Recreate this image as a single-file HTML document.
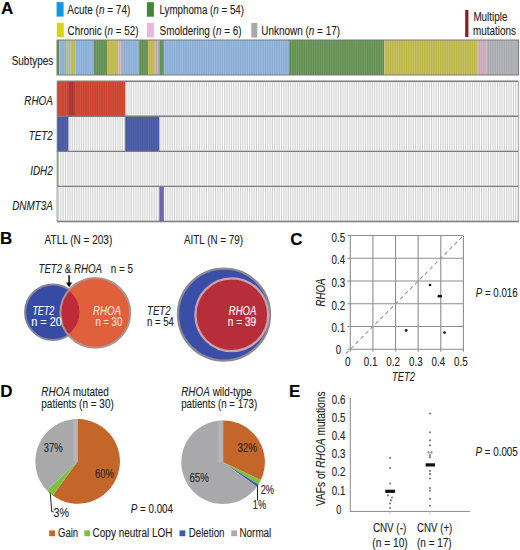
<!DOCTYPE html>
<html><head><meta charset="utf-8"><style>
html,body{margin:0;padding:0;background:#fff;}
svg{display:block;font-family:"Liberation Sans", sans-serif;}
</style></head><body>
<svg width="520" height="550" viewBox="0 0 520 550" fill="#231f20">
<rect x="0" y="0" width="520" height="550" fill="#fff"/>
<text x="0.90" y="13.60" font-size="17" fill="#000" stroke="#000" stroke-width="0.12" font-weight="bold">A</text>
<rect x="56.60" y="2.10" width="7.00" height="14.50" fill="#0a9ae0"/>
<text x="67.30" y="14.10" font-size="12" textLength="63.00" lengthAdjust="spacingAndGlyphs" stroke="#231f20" stroke-width="0.12">Acute (<tspan font-style="italic">n</tspan> = 74)</text>
<rect x="146.90" y="2.20" width="7.00" height="14.50" fill="#3f8a30"/>
<text x="159.50" y="14.10" font-size="12" textLength="84.50" lengthAdjust="spacingAndGlyphs" stroke="#231f20" stroke-width="0.12">Lymphoma (<tspan font-style="italic">n</tspan> = 54)</text>
<rect x="56.80" y="22.80" width="7.00" height="14.50" fill="#d6d416"/>
<text x="67.60" y="34.60" font-size="12" textLength="71.00" lengthAdjust="spacingAndGlyphs" stroke="#231f20" stroke-width="0.12">Chronic (<tspan font-style="italic">n</tspan> = 52)</text>
<rect x="146.90" y="22.90" width="7.00" height="14.50" fill="#e8b8dc"/>
<text x="159.60" y="34.50" font-size="12" textLength="82.00" lengthAdjust="spacingAndGlyphs" stroke="#231f20" stroke-width="0.12">Smoldering (<tspan font-style="italic">n</tspan> = 6)</text>
<rect x="251.30" y="23.00" width="6.00" height="14.50" fill="#a9a9a9"/>
<text x="261.30" y="34.50" font-size="12" textLength="78.70" lengthAdjust="spacingAndGlyphs" stroke="#231f20" stroke-width="0.12">Unknown (<tspan font-style="italic">n</tspan> = 17)</text>
<rect x="465.20" y="10.00" width="3.20" height="27.00" fill="#8a1c22"/>
<text x="473.40" y="21.40" font-size="12" textLength="34.00" lengthAdjust="spacingAndGlyphs" stroke="#231f20" stroke-width="0.12">Multiple</text>
<text x="473.00" y="34.60" font-size="12" textLength="43.00" lengthAdjust="spacingAndGlyphs" stroke="#231f20" stroke-width="0.12">mutations</text>
<rect x="57.00" y="40.00" width="2.27" height="35.00" fill="#5d8c4c"/>
<rect x="59.27" y="40.00" width="6.82" height="35.00" fill="#88add6"/>
<rect x="66.10" y="40.00" width="2.27" height="35.00" fill="#bdb646"/>
<rect x="68.37" y="40.00" width="2.27" height="35.00" fill="#88add6"/>
<rect x="70.64" y="40.00" width="4.55" height="35.00" fill="#bdb646"/>
<rect x="75.19" y="40.00" width="18.19" height="35.00" fill="#88add6"/>
<rect x="93.38" y="40.00" width="13.64" height="35.00" fill="#5d8c4c"/>
<rect x="107.03" y="40.00" width="11.37" height="35.00" fill="#bdb646"/>
<rect x="118.40" y="40.00" width="2.27" height="35.00" fill="#c8a6b6"/>
<rect x="120.67" y="40.00" width="2.27" height="35.00" fill="#a9a9b0"/>
<rect x="122.94" y="40.00" width="15.92" height="35.00" fill="#88add6"/>
<rect x="138.86" y="40.00" width="9.10" height="35.00" fill="#5d8c4c"/>
<rect x="147.96" y="40.00" width="6.82" height="35.00" fill="#bdb646"/>
<rect x="154.78" y="40.00" width="2.27" height="35.00" fill="#c8a6b6"/>
<rect x="157.05" y="40.00" width="2.27" height="35.00" fill="#a9a9b0"/>
<rect x="159.33" y="40.00" width="4.55" height="35.00" fill="#5d8c4c"/>
<rect x="163.87" y="40.00" width="125.06" height="35.00" fill="#88add6"/>
<rect x="288.94" y="40.00" width="95.50" height="35.00" fill="#5d8c4c"/>
<rect x="384.44" y="40.00" width="93.23" height="35.00" fill="#bdb646"/>
<rect x="477.67" y="40.00" width="9.10" height="35.00" fill="#c8a6b6"/>
<rect x="486.77" y="40.00" width="31.83" height="35.00" fill="#a9a9b0"/>
<path d="M59.77 40.00V75.00M62.05 40.00V75.00M64.32 40.00V75.00M66.60 40.00V75.00M68.87 40.00V75.00M71.14 40.00V75.00M73.42 40.00V75.00M75.69 40.00V75.00M77.97 40.00V75.00M80.24 40.00V75.00M82.51 40.00V75.00M84.79 40.00V75.00M87.06 40.00V75.00M89.33 40.00V75.00M91.61 40.00V75.00M93.88 40.00V75.00M96.16 40.00V75.00M98.43 40.00V75.00M100.70 40.00V75.00M102.98 40.00V75.00M105.25 40.00V75.00M107.53 40.00V75.00M109.80 40.00V75.00M112.07 40.00V75.00M114.35 40.00V75.00M116.62 40.00V75.00M118.90 40.00V75.00M121.17 40.00V75.00M123.44 40.00V75.00M125.72 40.00V75.00M127.99 40.00V75.00M130.26 40.00V75.00M132.54 40.00V75.00M134.81 40.00V75.00M137.09 40.00V75.00M139.36 40.00V75.00M141.63 40.00V75.00M143.91 40.00V75.00M146.18 40.00V75.00M148.46 40.00V75.00M150.73 40.00V75.00M153.00 40.00V75.00M155.28 40.00V75.00M157.55 40.00V75.00M159.83 40.00V75.00M162.10 40.00V75.00M164.37 40.00V75.00M166.65 40.00V75.00M168.92 40.00V75.00M171.19 40.00V75.00M173.47 40.00V75.00M175.74 40.00V75.00M178.02 40.00V75.00M180.29 40.00V75.00M182.56 40.00V75.00M184.84 40.00V75.00M187.11 40.00V75.00M189.39 40.00V75.00M191.66 40.00V75.00M193.93 40.00V75.00M196.21 40.00V75.00M198.48 40.00V75.00M200.76 40.00V75.00M203.03 40.00V75.00M205.30 40.00V75.00M207.58 40.00V75.00M209.85 40.00V75.00M212.12 40.00V75.00M214.40 40.00V75.00M216.67 40.00V75.00M218.95 40.00V75.00M221.22 40.00V75.00M223.49 40.00V75.00M225.77 40.00V75.00M228.04 40.00V75.00M230.32 40.00V75.00M232.59 40.00V75.00M234.86 40.00V75.00M237.14 40.00V75.00M239.41 40.00V75.00M241.69 40.00V75.00M243.96 40.00V75.00M246.23 40.00V75.00M248.51 40.00V75.00M250.78 40.00V75.00M253.05 40.00V75.00M255.33 40.00V75.00M257.60 40.00V75.00M259.88 40.00V75.00M262.15 40.00V75.00M264.42 40.00V75.00M266.70 40.00V75.00M268.97 40.00V75.00M271.25 40.00V75.00M273.52 40.00V75.00M275.79 40.00V75.00M278.07 40.00V75.00M280.34 40.00V75.00M282.62 40.00V75.00M284.89 40.00V75.00M287.16 40.00V75.00M289.44 40.00V75.00M291.71 40.00V75.00M293.98 40.00V75.00M296.26 40.00V75.00M298.53 40.00V75.00M300.81 40.00V75.00M303.08 40.00V75.00M305.35 40.00V75.00M307.63 40.00V75.00M309.90 40.00V75.00M312.18 40.00V75.00M314.45 40.00V75.00M316.72 40.00V75.00M319.00 40.00V75.00M321.27 40.00V75.00M323.55 40.00V75.00M325.82 40.00V75.00M328.09 40.00V75.00M330.37 40.00V75.00M332.64 40.00V75.00M334.91 40.00V75.00M337.19 40.00V75.00M339.46 40.00V75.00M341.74 40.00V75.00M344.01 40.00V75.00M346.28 40.00V75.00M348.56 40.00V75.00M350.83 40.00V75.00M353.11 40.00V75.00M355.38 40.00V75.00M357.65 40.00V75.00M359.93 40.00V75.00M362.20 40.00V75.00M364.48 40.00V75.00M366.75 40.00V75.00M369.02 40.00V75.00M371.30 40.00V75.00M373.57 40.00V75.00M375.84 40.00V75.00M378.12 40.00V75.00M380.39 40.00V75.00M382.67 40.00V75.00M384.94 40.00V75.00M387.21 40.00V75.00M389.49 40.00V75.00M391.76 40.00V75.00M394.04 40.00V75.00M396.31 40.00V75.00M398.58 40.00V75.00M400.86 40.00V75.00M403.13 40.00V75.00M405.41 40.00V75.00M407.68 40.00V75.00M409.95 40.00V75.00M412.23 40.00V75.00M414.50 40.00V75.00M416.77 40.00V75.00M419.05 40.00V75.00M421.32 40.00V75.00M423.60 40.00V75.00M425.87 40.00V75.00M428.14 40.00V75.00M430.42 40.00V75.00M432.69 40.00V75.00M434.97 40.00V75.00M437.24 40.00V75.00M439.51 40.00V75.00M441.79 40.00V75.00M444.06 40.00V75.00M446.34 40.00V75.00M448.61 40.00V75.00M450.88 40.00V75.00M453.16 40.00V75.00M455.43 40.00V75.00M457.70 40.00V75.00M459.98 40.00V75.00M462.25 40.00V75.00M464.53 40.00V75.00M466.80 40.00V75.00M469.07 40.00V75.00M471.35 40.00V75.00M473.62 40.00V75.00M475.90 40.00V75.00M478.17 40.00V75.00M480.44 40.00V75.00M482.72 40.00V75.00M484.99 40.00V75.00M487.27 40.00V75.00M489.54 40.00V75.00M491.81 40.00V75.00M494.09 40.00V75.00M496.36 40.00V75.00M498.63 40.00V75.00M500.91 40.00V75.00M503.18 40.00V75.00M505.46 40.00V75.00M507.73 40.00V75.00M510.00 40.00V75.00M512.28 40.00V75.00M514.55 40.00V75.00M516.83 40.00V75.00" stroke="#fff" stroke-width="0.9" opacity="0.2" fill="none"/>
<rect x="57.00" y="40.00" width="461.60" height="35.00" fill="none" stroke="#7a7a7a" stroke-width="1"/>
<text x="53.20" y="64.50" font-size="12" textLength="41.50" lengthAdjust="spacingAndGlyphs" text-anchor="end" stroke="#231f20" stroke-width="0.12">Subtypes</text>
<rect x="57.00" y="81.20" width="461.60" height="140.28" fill="#d5d5d5"/>
<path d="M59.77 81.20V221.48M62.05 81.20V221.48M64.32 81.20V221.48M66.60 81.20V221.48M68.87 81.20V221.48M71.14 81.20V221.48M73.42 81.20V221.48M75.69 81.20V221.48M77.97 81.20V221.48M80.24 81.20V221.48M82.51 81.20V221.48M84.79 81.20V221.48M87.06 81.20V221.48M89.33 81.20V221.48M91.61 81.20V221.48M93.88 81.20V221.48M96.16 81.20V221.48M98.43 81.20V221.48M100.70 81.20V221.48M102.98 81.20V221.48M105.25 81.20V221.48M107.53 81.20V221.48M109.80 81.20V221.48M112.07 81.20V221.48M114.35 81.20V221.48M116.62 81.20V221.48M118.90 81.20V221.48M121.17 81.20V221.48M123.44 81.20V221.48M125.72 81.20V221.48M127.99 81.20V221.48M130.26 81.20V221.48M132.54 81.20V221.48M134.81 81.20V221.48M137.09 81.20V221.48M139.36 81.20V221.48M141.63 81.20V221.48M143.91 81.20V221.48M146.18 81.20V221.48M148.46 81.20V221.48M150.73 81.20V221.48M153.00 81.20V221.48M155.28 81.20V221.48M157.55 81.20V221.48M159.83 81.20V221.48M162.10 81.20V221.48M164.37 81.20V221.48M166.65 81.20V221.48M168.92 81.20V221.48M171.19 81.20V221.48M173.47 81.20V221.48M175.74 81.20V221.48M178.02 81.20V221.48M180.29 81.20V221.48M182.56 81.20V221.48M184.84 81.20V221.48M187.11 81.20V221.48M189.39 81.20V221.48M191.66 81.20V221.48M193.93 81.20V221.48M196.21 81.20V221.48M198.48 81.20V221.48M200.76 81.20V221.48M203.03 81.20V221.48M205.30 81.20V221.48M207.58 81.20V221.48M209.85 81.20V221.48M212.12 81.20V221.48M214.40 81.20V221.48M216.67 81.20V221.48M218.95 81.20V221.48M221.22 81.20V221.48M223.49 81.20V221.48M225.77 81.20V221.48M228.04 81.20V221.48M230.32 81.20V221.48M232.59 81.20V221.48M234.86 81.20V221.48M237.14 81.20V221.48M239.41 81.20V221.48M241.69 81.20V221.48M243.96 81.20V221.48M246.23 81.20V221.48M248.51 81.20V221.48M250.78 81.20V221.48M253.05 81.20V221.48M255.33 81.20V221.48M257.60 81.20V221.48M259.88 81.20V221.48M262.15 81.20V221.48M264.42 81.20V221.48M266.70 81.20V221.48M268.97 81.20V221.48M271.25 81.20V221.48M273.52 81.20V221.48M275.79 81.20V221.48M278.07 81.20V221.48M280.34 81.20V221.48M282.62 81.20V221.48M284.89 81.20V221.48M287.16 81.20V221.48M289.44 81.20V221.48M291.71 81.20V221.48M293.98 81.20V221.48M296.26 81.20V221.48M298.53 81.20V221.48M300.81 81.20V221.48M303.08 81.20V221.48M305.35 81.20V221.48M307.63 81.20V221.48M309.90 81.20V221.48M312.18 81.20V221.48M314.45 81.20V221.48M316.72 81.20V221.48M319.00 81.20V221.48M321.27 81.20V221.48M323.55 81.20V221.48M325.82 81.20V221.48M328.09 81.20V221.48M330.37 81.20V221.48M332.64 81.20V221.48M334.91 81.20V221.48M337.19 81.20V221.48M339.46 81.20V221.48M341.74 81.20V221.48M344.01 81.20V221.48M346.28 81.20V221.48M348.56 81.20V221.48M350.83 81.20V221.48M353.11 81.20V221.48M355.38 81.20V221.48M357.65 81.20V221.48M359.93 81.20V221.48M362.20 81.20V221.48M364.48 81.20V221.48M366.75 81.20V221.48M369.02 81.20V221.48M371.30 81.20V221.48M373.57 81.20V221.48M375.84 81.20V221.48M378.12 81.20V221.48M380.39 81.20V221.48M382.67 81.20V221.48M384.94 81.20V221.48M387.21 81.20V221.48M389.49 81.20V221.48M391.76 81.20V221.48M394.04 81.20V221.48M396.31 81.20V221.48M398.58 81.20V221.48M400.86 81.20V221.48M403.13 81.20V221.48M405.41 81.20V221.48M407.68 81.20V221.48M409.95 81.20V221.48M412.23 81.20V221.48M414.50 81.20V221.48M416.77 81.20V221.48M419.05 81.20V221.48M421.32 81.20V221.48M423.60 81.20V221.48M425.87 81.20V221.48M428.14 81.20V221.48M430.42 81.20V221.48M432.69 81.20V221.48M434.97 81.20V221.48M437.24 81.20V221.48M439.51 81.20V221.48M441.79 81.20V221.48M444.06 81.20V221.48M446.34 81.20V221.48M448.61 81.20V221.48M450.88 81.20V221.48M453.16 81.20V221.48M455.43 81.20V221.48M457.70 81.20V221.48M459.98 81.20V221.48M462.25 81.20V221.48M464.53 81.20V221.48M466.80 81.20V221.48M469.07 81.20V221.48M471.35 81.20V221.48M473.62 81.20V221.48M475.90 81.20V221.48M478.17 81.20V221.48M480.44 81.20V221.48M482.72 81.20V221.48M484.99 81.20V221.48M487.27 81.20V221.48M489.54 81.20V221.48M491.81 81.20V221.48M494.09 81.20V221.48M496.36 81.20V221.48M498.63 81.20V221.48M500.91 81.20V221.48M503.18 81.20V221.48M505.46 81.20V221.48M507.73 81.20V221.48M510.00 81.20V221.48M512.28 81.20V221.48M514.55 81.20V221.48M516.83 81.20V221.48" stroke="#fbfbfb" stroke-width="1.1" fill="none"/>
<rect x="57.00" y="81.20" width="68.22" height="35.07" fill="#cc402d"/>
<rect x="68.67" y="81.20" width="5.91" height="35.07" fill="#a23430"/>
<path d="M59.77 81.20V116.27M62.05 81.20V116.27M64.32 81.20V116.27M66.60 81.20V116.27M68.87 81.20V116.27M71.14 81.20V116.27M73.42 81.20V116.27M75.69 81.20V116.27M77.97 81.20V116.27M80.24 81.20V116.27M82.51 81.20V116.27M84.79 81.20V116.27M87.06 81.20V116.27M89.33 81.20V116.27M91.61 81.20V116.27M93.88 81.20V116.27M96.16 81.20V116.27M98.43 81.20V116.27M100.70 81.20V116.27M102.98 81.20V116.27M105.25 81.20V116.27M107.53 81.20V116.27M109.80 81.20V116.27M112.07 81.20V116.27M114.35 81.20V116.27M116.62 81.20V116.27M118.90 81.20V116.27M121.17 81.20V116.27M123.44 81.20V116.27" stroke="#fff" stroke-width="0.9" opacity="0.12" fill="none"/>
<text x="52.80" y="104.70" font-size="12" textLength="28.50" lengthAdjust="spacingAndGlyphs" text-anchor="end" stroke="#231f20" stroke-width="0.12" font-style="italic">RHOA</text>
<rect x="57.00" y="116.27" width="11.37" height="35.07" fill="#4656a2"/>
<rect x="125.22" y="116.27" width="34.11" height="35.07" fill="#4656a2"/>
<path d="M59.77 116.27V151.34M62.05 116.27V151.34M64.32 116.27V151.34M66.60 116.27V151.34" stroke="#fff" stroke-width="0.9" opacity="0.12" fill="none"/>
<path d="M127.99 116.27V151.34M130.26 116.27V151.34M132.54 116.27V151.34M134.81 116.27V151.34M137.09 116.27V151.34M139.36 116.27V151.34M141.63 116.27V151.34M143.91 116.27V151.34M146.18 116.27V151.34M148.46 116.27V151.34M150.73 116.27V151.34M153.00 116.27V151.34M155.28 116.27V151.34M157.55 116.27V151.34" stroke="#fff" stroke-width="0.9" opacity="0.12" fill="none"/>
<text x="52.80" y="139.70" font-size="12" textLength="24.00" lengthAdjust="spacingAndGlyphs" text-anchor="end" stroke="#231f20" stroke-width="0.12" font-style="italic">TET2</text>
<rect x="57.00" y="151.34" width="1.50" height="35.07" fill="#8fb86a"/>
<text x="52.80" y="175.30" font-size="12" textLength="22.60" lengthAdjust="spacingAndGlyphs" text-anchor="end" stroke="#231f20" stroke-width="0.12" font-style="italic">IDH2</text>
<rect x="159.33" y="186.41" width="4.55" height="35.07" fill="#6a62b0"/>
<path d="M162.10 186.41V221.48" stroke="#fff" stroke-width="0.9" opacity="0.12" fill="none"/>
<text x="52.80" y="209.60" font-size="12" textLength="40.60" lengthAdjust="spacingAndGlyphs" text-anchor="end" stroke="#231f20" stroke-width="0.12" font-style="italic">DNMT3A</text>
<line x1="57.0" y1="81.20" x2="518.6" y2="81.20" stroke="#7c7c7c" stroke-width="1.4"/>
<line x1="57.0" y1="116.27" x2="518.6" y2="116.27" stroke="#7c7c7c" stroke-width="1.4"/>
<line x1="57.0" y1="151.34" x2="518.6" y2="151.34" stroke="#7c7c7c" stroke-width="1.4"/>
<line x1="57.0" y1="186.41" x2="518.6" y2="186.41" stroke="#7c7c7c" stroke-width="1.4"/>
<line x1="57.0" y1="221.48" x2="518.6" y2="221.48" stroke="#7c7c7c" stroke-width="1.4"/>
<line x1="57.0" y1="81.2" x2="57.0" y2="221.48" stroke="#9a9a9a" stroke-width="0.8"/>
<line x1="518.6" y1="81.2" x2="518.6" y2="221.48" stroke="#9a9a9a" stroke-width="0.8"/>
<text x="0.10" y="244.30" font-size="17" fill="#000" stroke="#000" stroke-width="0.12" font-weight="bold">B</text>
<text x="44.60" y="243.50" font-size="12" textLength="67.70" lengthAdjust="spacingAndGlyphs" stroke="#231f20" stroke-width="0.12">ATLL (N = 203)</text>
<text x="184.00" y="243.50" font-size="12" textLength="59.00" lengthAdjust="spacingAndGlyphs" stroke="#231f20" stroke-width="0.12">AITL (N = 79)</text>
<text x="38.50" y="273.30" font-size="12" textLength="63.50" lengthAdjust="spacingAndGlyphs" stroke="#231f20" stroke-width="0.12"><tspan font-style="italic">TET2</tspan> &amp; <tspan font-style="italic">RHOA</tspan></text>
<text x="110.80" y="273.30" font-size="12" textLength="22.20" lengthAdjust="spacingAndGlyphs" stroke="#231f20" stroke-width="0.12">n = 5</text>
<line x1="69.1" y1="275.3" x2="69.1" y2="284" stroke="#111" stroke-width="1.5"/>
<path d="M66.0 282.6 L72.2 282.6 L69.1 287.6 Z" fill="#111"/>
<defs><clipPath id="cb"><circle cx="52.25" cy="312.2" r="27.2"/></clipPath></defs>
<circle cx="52.85" cy="312.2" r="27.8" fill="#374ba5" stroke="#868696" stroke-width="2.0"/>
<circle cx="95.3" cy="312.9" r="34.9" fill="#e0603c"/>
<circle cx="95.3" cy="312.9" r="34.9" fill="#bf2a3a" clip-path="url(#cb)"/>
<circle cx="95.3" cy="312.9" r="34.9" fill="none" stroke="#a89494" stroke-width="2.0"/>
<text x="32.40" y="314.90" font-size="12" textLength="21.80" lengthAdjust="spacingAndGlyphs" fill="#fff" stroke="#fff" stroke-width="0.12" font-style="italic">TET2</text>
<text x="31.20" y="326.00" font-size="12" textLength="30.70" lengthAdjust="spacingAndGlyphs" fill="#fff" stroke="#fff" stroke-width="0.12">n = 20</text>
<text x="93.00" y="314.90" font-size="12" textLength="28.00" lengthAdjust="spacingAndGlyphs" fill="#fbe3dc" stroke="#fbe3dc" stroke-width="0.12" font-style="italic">RHOA</text>
<text x="95.40" y="326.10" font-size="12" textLength="26.80" lengthAdjust="spacingAndGlyphs" fill="#fbe3dc" stroke="#fbe3dc" stroke-width="0.12">n = 30</text>
<circle cx="224" cy="314.6" r="46.0" fill="#3a4ea8" stroke="#8a8a94" stroke-width="2.3"/>
<circle cx="231.8" cy="314.7" r="36.4" fill="#b82d3a" stroke="#c9a3ad" stroke-width="2.3"/>
<text x="147.00" y="315.00" font-size="12" textLength="23.60" lengthAdjust="spacingAndGlyphs" stroke="#231f20" stroke-width="0.12" font-style="italic">TET2</text>
<text x="146.90" y="325.70" font-size="12" textLength="27.00" lengthAdjust="spacingAndGlyphs" stroke="#231f20" stroke-width="0.12">n = 54</text>
<text x="228.80" y="314.80" font-size="12" textLength="27.50" lengthAdjust="spacingAndGlyphs" fill="#fff" stroke="#fff" stroke-width="0.12" font-style="italic">RHOA</text>
<text x="227.80" y="325.80" font-size="12" textLength="28.40" lengthAdjust="spacingAndGlyphs" fill="#fff" stroke="#fff" stroke-width="0.12">n = 39</text>
<text x="290.30" y="244.50" font-size="17" fill="#000" stroke="#000" stroke-width="0.12" font-weight="bold">C</text>
<line x1="350.30" y1="351.70" x2="350.30" y2="235.55" stroke="#8e8e8e" stroke-width="1.1"/>
<line x1="347.30" y1="349.20" x2="463.40" y2="349.20" stroke="#8e8e8e" stroke-width="1.1"/>
<line x1="372.92" y1="351.70" x2="372.92" y2="235.55" stroke="#8e8e8e" stroke-width="1.1"/>
<line x1="347.30" y1="326.47" x2="463.40" y2="326.47" stroke="#8e8e8e" stroke-width="1.1"/>
<line x1="395.54" y1="351.70" x2="395.54" y2="235.55" stroke="#8e8e8e" stroke-width="1.1"/>
<line x1="347.30" y1="303.74" x2="463.40" y2="303.74" stroke="#8e8e8e" stroke-width="1.1"/>
<line x1="418.16" y1="351.70" x2="418.16" y2="235.55" stroke="#8e8e8e" stroke-width="1.1"/>
<line x1="347.30" y1="281.01" x2="463.40" y2="281.01" stroke="#8e8e8e" stroke-width="1.1"/>
<line x1="440.78" y1="351.70" x2="440.78" y2="235.55" stroke="#8e8e8e" stroke-width="1.1"/>
<line x1="347.30" y1="258.28" x2="463.40" y2="258.28" stroke="#8e8e8e" stroke-width="1.1"/>
<line x1="463.40" y1="351.70" x2="463.40" y2="235.55" stroke="#8e8e8e" stroke-width="1.1"/>
<line x1="347.30" y1="235.55" x2="463.40" y2="235.55" stroke="#8e8e8e" stroke-width="1.1"/>
<line x1="345.78" y1="353.75" x2="463.40" y2="235.55" stroke="#9a9a9a" stroke-width="1.1" stroke-dasharray="4 3"/>
<text x="347.75" y="365.60" font-size="12" textLength="5.60" lengthAdjust="spacingAndGlyphs" text-anchor="middle" stroke="#231f20" stroke-width="0.12">0</text>
<text x="370.60" y="365.60" font-size="12" textLength="13.60" lengthAdjust="spacingAndGlyphs" text-anchor="middle" stroke="#231f20" stroke-width="0.12">0.1</text>
<text x="393.10" y="365.60" font-size="12" textLength="13.60" lengthAdjust="spacingAndGlyphs" text-anchor="middle" stroke="#231f20" stroke-width="0.12">0.2</text>
<text x="415.90" y="365.60" font-size="12" textLength="13.60" lengthAdjust="spacingAndGlyphs" text-anchor="middle" stroke="#231f20" stroke-width="0.12">0.3</text>
<text x="438.40" y="365.60" font-size="12" textLength="13.60" lengthAdjust="spacingAndGlyphs" text-anchor="middle" stroke="#231f20" stroke-width="0.12">0.4</text>
<text x="460.90" y="365.60" font-size="12" textLength="13.60" lengthAdjust="spacingAndGlyphs" text-anchor="middle" stroke="#231f20" stroke-width="0.12">0.5</text>
<text x="341.20" y="354.20" font-size="12" textLength="5.40" lengthAdjust="spacingAndGlyphs" text-anchor="end" stroke="#231f20" stroke-width="0.12">0</text>
<text x="345.20" y="331.80" font-size="12" textLength="13.60" lengthAdjust="spacingAndGlyphs" text-anchor="end" stroke="#231f20" stroke-width="0.12">0.1</text>
<text x="345.20" y="310.00" font-size="12" textLength="13.60" lengthAdjust="spacingAndGlyphs" text-anchor="end" stroke="#231f20" stroke-width="0.12">0.2</text>
<text x="345.20" y="286.80" font-size="12" textLength="13.60" lengthAdjust="spacingAndGlyphs" text-anchor="end" stroke="#231f20" stroke-width="0.12">0.3</text>
<text x="345.20" y="264.30" font-size="12" textLength="13.60" lengthAdjust="spacingAndGlyphs" text-anchor="end" stroke="#231f20" stroke-width="0.12">0.4</text>
<text x="345.20" y="241.80" font-size="12" textLength="13.60" lengthAdjust="spacingAndGlyphs" text-anchor="end" stroke="#231f20" stroke-width="0.12">0.5</text>
<text x="403.60" y="381.30" font-size="12" textLength="23.00" lengthAdjust="spacingAndGlyphs" text-anchor="middle" stroke="#231f20" stroke-width="0.12" font-style="italic">TET2</text>
<text x="325.30" y="292.60" font-size="12" textLength="28.00" lengthAdjust="spacingAndGlyphs" text-anchor="middle" stroke="#231f20" stroke-width="0.12" font-style="italic" transform="rotate(-90 325.30 292.60)">RHOA</text>
<circle cx="430" cy="285" r="1.35" fill="#111"/>
<circle cx="438.9" cy="296.2" r="1.35" fill="#111"/>
<circle cx="440.7" cy="296.2" r="1.35" fill="#111"/>
<circle cx="406.2" cy="330.4" r="1.35" fill="#111"/>
<circle cx="444.5" cy="332.5" r="1.35" fill="#111"/>
<text x="475.80" y="297.20" font-size="12" textLength="41.90" lengthAdjust="spacingAndGlyphs" stroke="#231f20" stroke-width="0.12"><tspan font-style="italic">P</tspan> = 0.016</text>
<text x="0.20" y="397.00" font-size="17" fill="#000" stroke="#000" stroke-width="0.12" font-weight="bold">D</text>
<text x="41.30" y="396.20" font-size="12" textLength="67.50" lengthAdjust="spacingAndGlyphs" stroke="#231f20" stroke-width="0.12"><tspan font-style="italic">RHOA</tspan> mutated</text>
<text x="41.30" y="407.90" font-size="12" textLength="72.50" lengthAdjust="spacingAndGlyphs" stroke="#231f20" stroke-width="0.12">patients (n = 30)</text>
<text x="181.20" y="395.80" font-size="12" textLength="70.60" lengthAdjust="spacingAndGlyphs" stroke="#231f20" stroke-width="0.12"><tspan font-style="italic">RHOA</tspan> wild-type</text>
<text x="181.20" y="407.90" font-size="12" textLength="76.00" lengthAdjust="spacingAndGlyphs" stroke="#231f20" stroke-width="0.12">patients (n = 173)</text>
<path d="M77.60 461.40 L77.60 419.10 A42.3 42.3 0 1 1 52.74 495.62 Z" fill="#c4652a"/>
<path d="M77.60 461.40 L52.74 495.62 A42.3 42.3 0 0 1 46.76 490.36 Z" fill="#80c040"/>
<path d="M77.60 461.40 L46.76 490.36 A42.3 42.3 0 0 1 77.60 419.10 Z" fill="#a9a9ab"/>
<path d="M223.10 462.20 L223.10 420.40 A41.8 41.8 0 0 1 260.92 480.00 Z" fill="#c4652a"/>
<path d="M223.10 462.20 L260.92 480.00 A41.8 41.8 0 0 1 258.39 484.60 Z" fill="#80c040"/>
<path d="M223.10 462.20 L258.39 484.60 A41.8 41.8 0 0 1 256.92 486.77 Z" fill="#3c5aa8"/>
<path d="M223.10 462.20 L256.92 486.77 A41.8 41.8 0 1 1 223.10 420.40 Z" fill="#a9a9ab"/>
<defs><linearGradient id="strip" x1="0" x2="1" y1="0" y2="0"><stop offset="0" stop-color="#a9a9ab"/><stop offset="0.45" stop-color="#b5b7bc"/><stop offset="0.8" stop-color="#b3b5ba"/><stop offset="1" stop-color="#a9a9ab"/></linearGradient><clipPath id="p1"><circle cx="77.6" cy="461.4" r="42.3"/></clipPath><clipPath id="p2"><circle cx="223.1" cy="462.2" r="41.8"/></clipPath></defs>
<rect x="72.2" y="418" width="5.4" height="43.4" fill="url(#strip)" clip-path="url(#p1)"/>
<rect x="216.8" y="419" width="6.3" height="43.2" fill="url(#strip)" clip-path="url(#p2)"/>
<text x="43.80" y="451.90" font-size="12" textLength="18.90" lengthAdjust="spacingAndGlyphs" fill="#2a2a2a" stroke="#2a2a2a" stroke-width="0.12">37%</text>
<text x="95.00" y="477.90" font-size="12" textLength="19.00" lengthAdjust="spacingAndGlyphs" fill="#2a2a2a" stroke="#2a2a2a" stroke-width="0.12">60%</text>
<text x="237.40" y="451.90" font-size="12" textLength="19.70" lengthAdjust="spacingAndGlyphs" fill="#2a2a2a" stroke="#2a2a2a" stroke-width="0.12">32%</text>
<text x="189.40" y="481.50" font-size="12" textLength="19.40" lengthAdjust="spacingAndGlyphs" fill="#2a2a2a" stroke="#2a2a2a" stroke-width="0.12">65%</text>
<text x="260.70" y="493.60" font-size="12" textLength="13.30" lengthAdjust="spacingAndGlyphs" fill="#2a2a2a" stroke="#2a2a2a" stroke-width="0.12">2%</text>
<text x="252.80" y="509.00" font-size="12" textLength="13.20" lengthAdjust="spacingAndGlyphs" fill="#2a2a2a" stroke="#2a2a2a" stroke-width="0.12">1%</text>
<text x="53.60" y="517.20" font-size="12" textLength="15.60" lengthAdjust="spacingAndGlyphs" fill="#2a2a2a" stroke="#2a2a2a" stroke-width="0.12">3%</text>
<path d="M50.2 492.5 L51.8 511.8 L53.6 511.8" fill="none" stroke="#222" stroke-width="1"/>
<line x1="257.5" y1="484.8" x2="257.5" y2="500.5" stroke="#222" stroke-width="1"/>
<text x="130.80" y="513.30" font-size="12" textLength="42.20" lengthAdjust="spacingAndGlyphs" stroke="#231f20" stroke-width="0.12"><tspan font-style="italic">P</tspan> = 0.004</text>
<rect x="49.20" y="530.40" width="5.80" height="5.80" fill="#c4652a"/>
<text x="58.00" y="536.60" font-size="12" textLength="20.10" lengthAdjust="spacingAndGlyphs" stroke="#231f20" stroke-width="0.12">Gain</text>
<rect x="84.30" y="530.40" width="5.80" height="5.80" fill="#80c040"/>
<text x="92.60" y="536.60" font-size="12" textLength="79.90" lengthAdjust="spacingAndGlyphs" stroke="#231f20" stroke-width="0.12">Copy neutral LOH</text>
<rect x="179.50" y="530.40" width="5.80" height="5.80" fill="#3c5aa8"/>
<text x="188.75" y="536.60" font-size="12" textLength="35.75" lengthAdjust="spacingAndGlyphs" stroke="#231f20" stroke-width="0.12">Deletion</text>
<rect x="231.30" y="530.40" width="5.80" height="5.80" fill="#a9a9ab"/>
<text x="239.50" y="536.60" font-size="12" textLength="31.75" lengthAdjust="spacingAndGlyphs" stroke="#231f20" stroke-width="0.12">Normal</text>
<text x="288.90" y="397.00" font-size="17" fill="#000" stroke="#000" stroke-width="0.12" font-weight="bold">E</text>
<line x1="350.3" y1="397.8" x2="350.3" y2="511.4" stroke="#8a8a8a" stroke-width="1"/>
<line x1="349.8" y1="511.4" x2="470.2" y2="511.4" stroke="#8a8a8a" stroke-width="1"/>
<path d="M390.1 511.4V514M430 511.4V514" stroke="#aaa" stroke-width="0.8"/>
<text x="341.20" y="514.20" font-size="12" textLength="5.00" lengthAdjust="spacingAndGlyphs" text-anchor="end" stroke="#231f20" stroke-width="0.12">0</text>
<text x="345.30" y="495.30" font-size="12" textLength="13.50" lengthAdjust="spacingAndGlyphs" text-anchor="end" stroke="#231f20" stroke-width="0.12">0.1</text>
<text x="345.30" y="476.30" font-size="12" textLength="13.50" lengthAdjust="spacingAndGlyphs" text-anchor="end" stroke="#231f20" stroke-width="0.12">0.2</text>
<text x="345.30" y="457.90" font-size="12" textLength="13.50" lengthAdjust="spacingAndGlyphs" text-anchor="end" stroke="#231f20" stroke-width="0.12">0.3</text>
<text x="345.30" y="439.70" font-size="12" textLength="13.50" lengthAdjust="spacingAndGlyphs" text-anchor="end" stroke="#231f20" stroke-width="0.12">0.4</text>
<text x="345.30" y="421.50" font-size="12" textLength="13.50" lengthAdjust="spacingAndGlyphs" text-anchor="end" stroke="#231f20" stroke-width="0.12">0.5</text>
<text x="345.30" y="403.60" font-size="12" textLength="13.50" lengthAdjust="spacingAndGlyphs" text-anchor="end" stroke="#231f20" stroke-width="0.12">0.6</text>
<text x="325.40" y="506.00" font-size="12" textLength="114.50" lengthAdjust="spacingAndGlyphs" stroke="#231f20" stroke-width="0.12" transform="rotate(-90 325.40 506.00)">VAFs of <tspan font-style="italic">RHOA</tspan> mutations</text>
<circle cx="390.1" cy="457.8" r="1.1" fill="#808080"/>
<circle cx="390.1" cy="468.1" r="1.1" fill="#808080"/>
<circle cx="390.1" cy="483.6" r="1.1" fill="#808080"/>
<circle cx="388" cy="495.4" r="1.1" fill="#808080"/>
<circle cx="392" cy="497.5" r="1.1" fill="#808080"/>
<circle cx="391" cy="500.4" r="1.1" fill="#808080"/>
<circle cx="390.1" cy="503.6" r="1.1" fill="#808080"/>
<circle cx="390.1" cy="508" r="1.1" fill="#808080"/>
<circle cx="430" cy="413.5" r="1.1" fill="#808080"/>
<circle cx="430" cy="432.3" r="1.1" fill="#808080"/>
<circle cx="430" cy="440.4" r="1.1" fill="#808080"/>
<circle cx="430" cy="445.4" r="1.1" fill="#808080"/>
<circle cx="428.5" cy="452.4" r="1.1" fill="#808080"/>
<circle cx="431.5" cy="452.4" r="1.1" fill="#808080"/>
<circle cx="430" cy="455" r="1.1" fill="#808080"/>
<circle cx="430" cy="457.2" r="1.1" fill="#808080"/>
<circle cx="430" cy="470.9" r="1.1" fill="#808080"/>
<circle cx="430" cy="474.2" r="1.1" fill="#808080"/>
<circle cx="430" cy="478.5" r="1.1" fill="#808080"/>
<circle cx="430" cy="488" r="1.1" fill="#808080"/>
<circle cx="430" cy="490.6" r="1.1" fill="#808080"/>
<circle cx="430" cy="498.8" r="1.1" fill="#808080"/>
<circle cx="430" cy="505.8" r="1.1" fill="#808080"/>
<rect x="385.30" y="489.70" width="9.80" height="3.20" fill="#111"/>
<rect x="425.60" y="463.30" width="9.40" height="3.20" fill="#111"/>
<text x="372.90" y="532.00" font-size="12" textLength="33.30" lengthAdjust="spacingAndGlyphs" stroke="#231f20" stroke-width="0.12">CNV (-)</text>
<text x="372.30" y="546.50" font-size="12" textLength="35.40" lengthAdjust="spacingAndGlyphs" stroke="#231f20" stroke-width="0.12">(n = 10)</text>
<text x="417.00" y="532.00" font-size="12" textLength="35.30" lengthAdjust="spacingAndGlyphs" stroke="#231f20" stroke-width="0.12">CNV (+)</text>
<text x="417.00" y="546.50" font-size="12" textLength="34.70" lengthAdjust="spacingAndGlyphs" stroke="#231f20" stroke-width="0.12">(n = 17)</text>
<text x="475.60" y="456.30" font-size="12" textLength="42.10" lengthAdjust="spacingAndGlyphs" stroke="#231f20" stroke-width="0.12"><tspan font-style="italic">P</tspan> = 0.005</text>
</svg>
</body></html>
